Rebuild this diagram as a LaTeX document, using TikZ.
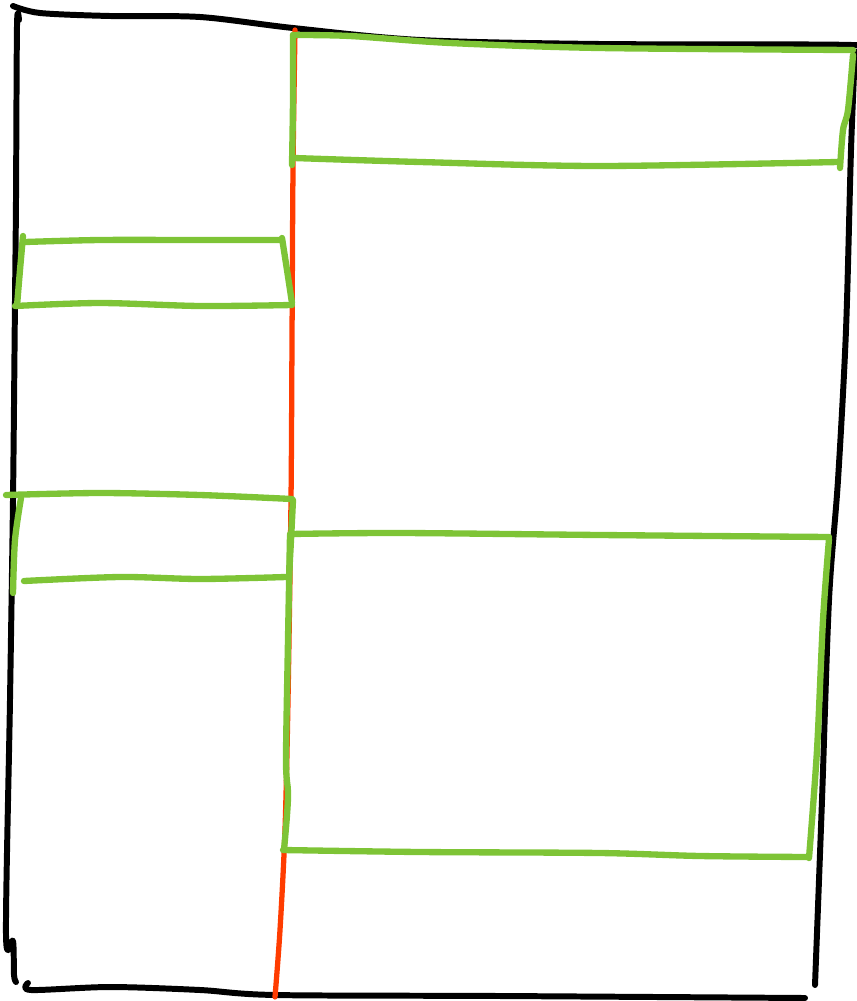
\documentclass[tikz,border=0pt]{standalone}
\usepackage{xcolor}
\usepackage{tikz}
\definecolor{sketchgreen}{RGB}{126,196,54}
\definecolor{sketchred}{RGB}{255,60,0}
\tikzset{
  frameline/.style={draw=black,line width=3.4pt,line cap=round,line join=round},
  divline/.style={draw=sketchred,line width=3pt,line cap=round,line join=round},
  greenbox/.style={draw=sketchgreen,line width=3.6pt,line cap=round,line join=round}
}
\begin{document}
\begin{tikzpicture}[x=0.02cm,y=-0.02cm]
\useasboundingbox (0,0) rectangle (857,1001);
% outer frame
\draw[frameline] plot[smooth,tension=0.5] coordinates {(13,6) (40,13) (110,16) (200,17) (293,28) (420,40) (600,44) (852,45) (856,52)};
\draw[frameline] plot[smooth,tension=0.5] coordinates {(855,52) (851,150) (846,330) (838,480) (829,600) (822,800) (815,985)};
\draw[frameline] plot[smooth,tension=0.5] coordinates {(28,983) (31,990) (110,987) (200,990) (275,995) (500,996) (805,998)};
\draw[frameline] plot[smooth,tension=0.5] coordinates {(19,20) (17,26) (16,200) (15,300) (13,500) (10,700) (6,935) (13,941) (14,975) (16,982)};
% divider
\draw[divline] plot[smooth,tension=0.5] coordinates {(295,30) (293,170) (292,340) (291,500) (288,700) (285,830) (280,930) (275,997)};
% top right box
\draw[greenbox] plot[smooth,tension=0.5] coordinates {(293,35) (350,36) (450,43) (600,48) (853,50)};
\draw[greenbox] plot[smooth,tension=0.5] coordinates {(293,35) (293,100) (292,165)};
\draw[greenbox] plot[smooth,tension=0.5] coordinates {(294,158) (420,162) (600,166) (838,162)};
\draw[greenbox] plot[smooth,tension=0.5] coordinates {(853,55) (848,110) (843,130) (840,168)};
% left upper box
\draw[greenbox] plot[smooth,tension=0.5] coordinates {(25,242) (100,240) (200,240) (282,240)};
\draw[greenbox] plot[smooth,tension=0.5] coordinates {(23,236) (20,270) (17,306)};
\draw[greenbox] plot[smooth,tension=0.5] coordinates {(15,306) (100,303) (200,306) (292,305)};
\draw[greenbox] plot[smooth,tension=0.5] coordinates {(282,238) (287,270) (292,303)};
% left lower box
\draw[greenbox] plot[smooth,tension=0.5] coordinates {(6,495) (100,493) (200,495) (292,499)};
\draw[greenbox] plot[smooth,tension=0.5] coordinates {(21,498) (15,540) (13,593)};
\draw[greenbox] plot[smooth,tension=0.5] coordinates {(24,581) (120,577) (200,579) (286,577)};
\draw[greenbox] plot[smooth,tension=0.5] coordinates {(293,500) (291,540) (289,577)};
% right lower box
\draw[greenbox] plot[smooth,tension=0.5] coordinates {(290,534) (400,533) (600,535) (829,537)};
\draw[greenbox] plot[smooth,tension=0.5] coordinates {(290,535) (288,640) (286,760) (288,792) (287,815) (284,850)};
\draw[greenbox] plot[smooth,tension=0.5] coordinates {(283,850) (420,852) (600,853) (700,856) (808,857)};
\draw[greenbox] plot[smooth,tension=0.5] coordinates {(829,539) (823,620) (817,750) (809,858)};
\end{tikzpicture}
\end{document}
